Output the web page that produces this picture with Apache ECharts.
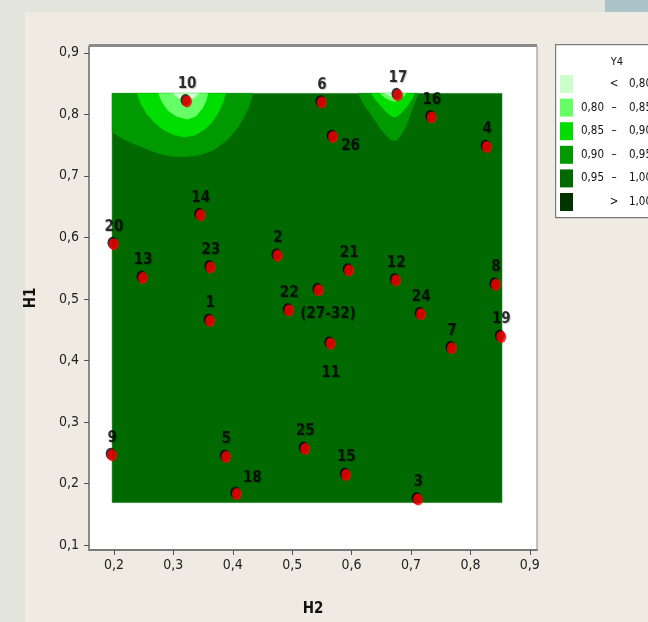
<!DOCTYPE html>
<html><head><meta charset="utf-8">
<script src="https://cdn.jsdelivr.net/npm/echarts@6/dist/echarts.min.js"></script>
<style>html,body{margin:0;padding:0;background:#efebe3}#c{width:648px;height:622px}</style>
</head><body><div id="c"></div>
<script>
// Design points (run labels, H2, H1)
const runLabels = ['1','2','3','4','5','6','7','8','9','10','11','12','13','14','15','16','17','18','19','20','21','22','23','24','25','26','(27-32)'];
const h2Values = [0.362,0.476,0.712,0.828,0.389,0.550,0.769,0.843,0.197,0.323,0.565,0.675,0.249,0.346,0.591,0.735,0.678,0.407,0.852,0.200,0.596,0.495,0.363,0.717,0.522,0.569,0.545];
const h1Values = [0.464,0.570,0.174,0.747,0.243,0.819,0.420,0.523,0.246,0.821,0.427,0.530,0.534,0.636,0.214,0.795,0.831,0.183,0.438,0.589,0.546,0.481,0.551,0.475,0.256,0.763,0.514];

// Legend classes of Y4
const legendTitle = 'Y4';
const classLow = ['', '0,80', '0,85', '0,90', '0,95', ''];
const classSep = ['<', '–', '–', '–', '–', '>'];
const classHigh = ['0,80', '0,85', '0,90', '0,95', '1,00', '1,00'];
const classColors = ['#ccffcc', '#66ff66', '#00dd00', '#009900', '#006a00', '#003300'];

// Contour regions (H2, H1)
const regionBase_095_100 = [[0.197,0.169],[0.853,0.169],[0.853,0.834],[0.197,0.834]];
const regionA_090_095 = [[0.197,0.834],[0.197,0.771],[0.215,0.760],[0.244,0.748],[0.270,0.738],[0.295,0.732],[0.320,0.731],[0.345,0.734],[0.368,0.742],[0.390,0.758],[0.405,0.774],[0.417,0.792],[0.427,0.812],[0.434,0.834]];
const regionA_085_090 = [[0.239,0.834],[0.245,0.818],[0.255,0.801],[0.268,0.787],[0.283,0.775],[0.300,0.767],[0.318,0.763],[0.336,0.766],[0.352,0.775],[0.366,0.788],[0.377,0.805],[0.384,0.820],[0.388,0.834]];
const regionA_080_085 = [[0.275,0.834],[0.281,0.820],[0.291,0.806],[0.305,0.797],[0.323,0.792],[0.338,0.797],[0.349,0.810],[0.355,0.822],[0.358,0.834]];
const regionA_lt080 = [[0.300,0.834],[0.308,0.827],[0.322,0.824],[0.336,0.827],[0.343,0.834]];
const regionB_090_095 = [[0.611,0.834],[0.622,0.814],[0.636,0.795],[0.647,0.779],[0.656,0.768],[0.664,0.760],[0.670,0.757],[0.676,0.758],[0.681,0.763],[0.687,0.772],[0.693,0.784],[0.698,0.797],[0.703,0.811],[0.712,0.834]];
const regionB_085_090 = [[0.633,0.834],[0.640,0.824],[0.648,0.815],[0.656,0.806],[0.664,0.799],[0.672,0.795],[0.680,0.799],[0.688,0.807],[0.695,0.815],[0.701,0.824],[0.706,0.834]];
const regionB_080_085 = [[0.648,0.834],[0.656,0.827],[0.664,0.823],[0.672,0.821],[0.679,0.823],[0.686,0.828],[0.692,0.834]];
const regionB_lt080 = [[0.656,0.834],[0.668,0.829],[0.681,0.834]];

const regions = [
  [regionBase_095_100, 4],
  [regionA_090_095, 3], [regionA_085_090, 2], [regionA_080_085, 1], [regionA_lt080, 0],
  [regionB_090_095, 3], [regionB_085_090, 2], [regionB_080_085, 1], [regionB_lt080, 0]
];

const labelOverrides = {
  '26': {position: 'right', distance: 3, offset: [0, 9]},
  '11': {position: 'bottom', distance: 16},
  '(27-32)': {position: 'bottom', distance: 10, offset: [9, 0]},
  '18': {position: 'right', distance: 1, offset: [0, -16]}
};

const chart = echarts.init(document.getElementById('c'), null, {renderer: 'canvas'});
const fmt = v => v.toFixed(1).replace('.', ',');
const axisFont = 'DejaVu Sans Condensed, Liberation Sans Narrow, sans-serif';

const contourSeries = regions.map(([poly, cls]) => ({
  type: 'custom',
  coordinateSystem: 'cartesian2d',
  clip: true,
  silent: true,
  z: 1,
  data: [[poly[0][0], poly[0][1]]],
  renderItem: (params, api) => ({
    type: 'polygon',
    shape: {points: poly.map(p => api.coord(p))},
    style: {fill: classColors[cls], stroke: classColors[cls], lineWidth: 0.5}
  })
}));

const points = runLabels.map((lab, i) => {
  const o = labelOverrides[lab];
  const item = {value: [h2Values[i], h1Values[i]], name: lab};
  if (o) item.label = o;
  return item;
});

const legendGraphics = [];
legendGraphics.push({type: 'rect', left: 555, top: 44, shape: {width: 120, height: 173}, style: {fill: '#ffffff', stroke: '#7a7a7a', lineWidth: 1.2}, z: 10});
legendGraphics.push({type: 'text', x: 617, y: 62, style: {text: legendTitle, fill: '#111', font: '11px ' + axisFont, align: 'center', verticalAlign: 'middle'}, z: 11});
for (let i = 0; i < classColors.length; i++) {
  const y = 75 + i * 23.6;
  legendGraphics.push({type: 'rect', shape: {x: 560, y: y, width: 13, height: 18}, style: {fill: classColors[i]}, z: 11});
  const cy = y + 9;
  if (classLow[i]) legendGraphics.push({type: 'text', x: 604, y: cy, style: {text: classLow[i], fill: '#111', font: '11.5px ' + axisFont, align: 'right', verticalAlign: 'middle'}, z: 11});
  legendGraphics.push({type: 'text', x: 614, y: cy, style: {text: classSep[i], fill: '#111', font: '11.5px ' + axisFont, align: 'center', verticalAlign: 'middle'}, z: 11});
  legendGraphics.push({type: 'text', x: 629, y: cy, style: {text: classHigh[i], fill: '#111', font: '11.5px ' + axisFont, align: 'left', verticalAlign: 'middle'}, z: 11});
}

chart.setOption({
  backgroundColor: '#efebe3',
  animation: false,
  grid: {left: 89, top: 46, right: 111, bottom: 67, show: true, backgroundColor: '#ffffff', borderColor: '#8a8a8a', borderWidth: 1},
  xAxis: {
    type: 'value', min: 0.158, max: 0.912, splitNumber: 8,
    name: 'H2', nameLocation: 'middle', nameGap: 52,
    nameTextStyle: {fontFamily: axisFont, fontWeight: 'bold', fontSize: 15, color: '#111'},
    axisLine: {show: true, onZero: false, lineStyle: {color: '#7a7a7a', width: 2}},
    axisTick: {show: true, length: 5, lineStyle: {color: '#555'}},
    splitLine: {show: false},
    axisLabel: {margin: 8, fontFamily: axisFont, fontSize: 14, color: '#222', showMinLabel: false, showMaxLabel: false,
      formatter: v => (Math.abs(v * 10 - Math.round(v * 10)) < 1e-6 ? fmt(v) : '')}
  },
  yAxis: {
    type: 'value', min: 0.092, max: 0.911, splitNumber: 8,
    name: 'H1', nameLocation: 'middle', nameGap: 50,
    nameTextStyle: {fontFamily: axisFont, fontWeight: 'bold', fontSize: 15, color: '#111'},
    axisLine: {show: true, onZero: false, lineStyle: {color: '#7a7a7a', width: 1.5}},
    axisTick: {show: true, length: 5, lineStyle: {color: '#555'}},
    splitLine: {show: false},
    axisLabel: {margin: 10, fontFamily: axisFont, fontSize: 14, color: '#222', showMinLabel: false, showMaxLabel: false,
      formatter: v => (Math.abs(v * 10 - Math.round(v * 10)) < 1e-6 ? fmt(v) : '')}
  },
  graphic: [
    {type: 'rect', shape: {x: 0, y: 0, width: 25, height: 622}, style: {fill: '#e3e4db'}, z: -10},
    {type: 'rect', shape: {x: 0, y: 0, width: 605, height: 12}, style: {fill: '#e3e4db'}, z: -10},
    {type: 'rect', shape: {x: 605, y: 0, width: 43, height: 12}, style: {fill: '#a9c3c9'}, z: -10},
    {type: 'rect', shape: {x: 89, y: 44, width: 448, height: 3}, style: {fill: '#8a8a8a'}, z: 5},
    ...legendGraphics
  ],
  series: [
    ...contourSeries,
    {
      type: 'scatter', z: 5,
      symbol: 'circle', symbolSize: [10, 12],
      itemStyle: {color: '#ff0000', shadowColor: '#000', shadowBlur: 0, shadowOffsetX: -1.5, shadowOffsetY: -1.5},
      label: {show: true, position: 'top', distance: 4, formatter: p => p.name,
        fontFamily: axisFont, fontWeight: 'bold', fontSize: 15, color: '#000',
        textShadowColor: 'rgba(0,0,0,0.3)', textShadowBlur: 1, textShadowOffsetX: 1, textShadowOffsetY: 1},
      data: points
    }
  ]
});
</script>
</body></html>
